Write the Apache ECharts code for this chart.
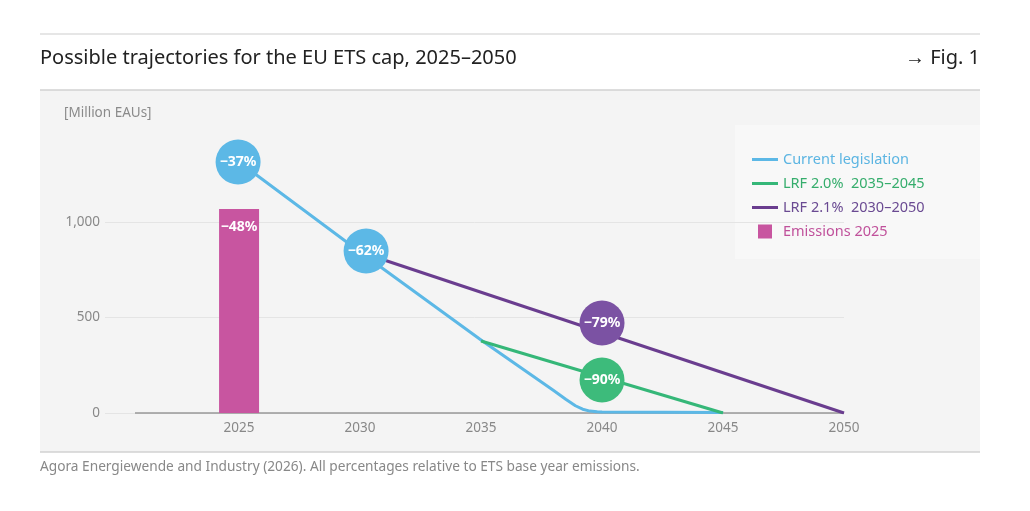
<!DOCTYPE html>
<html>
<head>
<meta charset="utf-8">
<script src="https://cdn.jsdelivr.net/npm/echarts@6/dist/echarts.min.js"></script>
<style>
html, body { margin: 0; padding: 0; background: #fff; }
#chart { width: 1030px; height: 511px; }
</style>
</head>
<body>
<div id="chart"></div>
<script>
// x labels and y ticks
const yearLabels = [2025, 2030, 2035, 2040, 2045, 2050];
const yTicks = [0, 500, 1000];

// cap trajectories [year, Million EAUs]
const currentLegislation = [[2025, 1314], [2030, 843], [2035, 382], [2038, 118], [2038.5, 72], [2038.9, 38], [2039.2, 20], [2039.5, 10], [2039.8, 6], [2040, 5], [2045, 2]];
const lrf20 = [[2035, 377], [2045, 0]];
const lrf21 = [[2030, 843], [2050, 0]];
const emissions2025 = [[2025, 1068]];

// reduction bubbles
const bubbleLabels = ['−37%', '−62%', '−79%', '−90%'];
const bubbleYears = [2024.96, 2030.25, 2040, 2040];
const bubbleValues = [1314, 848, 471, 173];
const bubbleColors = ['#5cb8e6', '#5cb8e6', '#7b52a3', '#3dbb7b'];

const FONT = '"Noto Sans"';
const chart = echarts.init(document.getElementById('chart'));

const bubbleSeries = bubbleLabels.map((lab, i) => ({
  type: 'scatter',
  name: 'bubble' + i,
  data: [[bubbleYears[i], bubbleValues[i]]],
  symbolSize: 45,
  z: 10,
  itemStyle: { color: bubbleColors[i], opacity: 1 },
  label: {
    show: true, position: 'inside', formatter: lab,
    color: '#fff', fontWeight: 'bold', fontSize: 14, fontFamily: FONT
  },
  emphasis: { disabled: true }
}));

const lineIcon = 'path://M0,0h26v3h-26z';

chart.setOption({
  animation: false,
  textStyle: { fontFamily: FONT },
  grid: { left: 105, right: 186, top: 126.5, bottom: 98 },
  graphic: [
    { type: 'line', shape: { x1: 40, y1: 34, x2: 980, y2: 34 }, style: { stroke: '#dedede', lineWidth: 1.5 }, z: -10 },
    { type: 'text', left: 40, top: 48, style: { text: 'Possible trajectories for the EU ETS cap, 2025–2050', fontSize: 20, fill: '#222', fontFamily: FONT } },
    { type: 'text', right: 50, top: 48, style: { text: '→ Fig. 1', fontSize: 20, fill: '#222', fontFamily: FONT } },
    { type: 'rect', shape: { x: 40, y: 90, width: 940, height: 362 }, style: { fill: '#f4f4f4' }, z: -10 },
    { type: 'line', shape: { x1: 40, y1: 90, x2: 980, y2: 90 }, style: { stroke: '#d2d2d2', lineWidth: 1.5 }, z: -9 },
    { type: 'line', shape: { x1: 40, y1: 452, x2: 980, y2: 452 }, style: { stroke: '#d2d2d2', lineWidth: 1.5 }, z: -9 },
    { type: 'rect', shape: { x: 735, y: 125, width: 245, height: 134 }, style: { fill: '#f8f8f8' }, z: -8 },
    { type: 'text', left: 64, top: 106, style: { text: '[Million EAUs]', fontSize: 13.5, fill: '#8a8a8a', fontFamily: FONT } },
    { type: 'text', left: 40, top: 460, style: { text: 'Agora Energiewende and Industry (2026). All percentages relative to ETS base year emissions.', fontSize: 13.7, fill: '#888', fontFamily: FONT } }
  ],
  legend: {
    orient: 'vertical', left: 752, top: 152, padding: 0,
    itemWidth: 26, itemHeight: 14, itemGap: 9,
    textStyle: { fontSize: 14.5, fontFamily: FONT },
    selectedMode: false,
    data: [
      { name: 'Current legislation', icon: lineIcon, textStyle: { color: '#5cb5e2' } },
      { name: 'LRF 2.0%  2035–2045', icon: lineIcon, textStyle: { color: '#35ad6c' } },
      { name: 'LRF 2.1%  2030–2050', icon: lineIcon, textStyle: { color: '#6a4a92' } },
      { name: 'Emissions 2025', icon: 'path://M0,0h1v1h-1z', textStyle: { color: '#c0519b' } }
    ]
  },
  xAxis: {
    type: 'value', min: 2019.46, max: 2050,
    axisLine: { show: false }, axisTick: { show: false }, splitLine: { show: false },
    axisLabel: { customValues: yearLabels, formatter: v => String(v), color: '#888', fontSize: 13.5, margin: 8 }
  },
  yAxis: {
    type: 'value', min: 0, max: 1500, interval: 500,
    axisLine: { show: false }, axisTick: { show: false },
    splitLine: { lineStyle: { color: '#e4e4e4', width: 1 }, showMaxLine: false },
    axisLabel: {
      customValues: yTicks,
      formatter: v => v.toLocaleString('en-US'), color: '#888', fontSize: 13.5, margin: 5
    }
  },
  series: [
    {
      type: 'bar', name: 'Emissions 2025', data: emissions2025, barWidth: 40, z: 3,
      itemStyle: { color: '#c855a0' },
      label: { show: true, position: 'insideTop', distance: 11, formatter: '−48%', color: '#fff', fontWeight: 'bold', fontSize: 14, fontFamily: FONT },
      markLine: {
        silent: true, symbol: 'none', z: 1,
        lineStyle: { color: '#999', width: 1.5, type: 'solid' },
        label: { show: false },
        data: [[{ coord: [2020.7, 0] }, { coord: [2050, 0] }]]
      }
    },
    {
      type: 'line', name: 'Current legislation', data: currentLegislation, symbol: 'none', z: 4,
      lineStyle: { color: '#5cb8e6', width: 3, join: 'round' }, itemStyle: { color: '#5cb8e6' }
    },
    {
      type: 'line', name: 'LRF 2.0%  2035–2045', data: lrf20, symbol: 'none', z: 4,
      lineStyle: { color: '#35b778', width: 3 }, itemStyle: { color: '#35b778' }
    },
    {
      type: 'line', name: 'LRF 2.1%  2030–2050', data: lrf21, symbol: 'none', z: 4,
      lineStyle: { color: '#6a3d8f', width: 3 }, itemStyle: { color: '#6a3d8f' }
    },
    ...bubbleSeries
  ]
});
</script>
</body>
</html>
